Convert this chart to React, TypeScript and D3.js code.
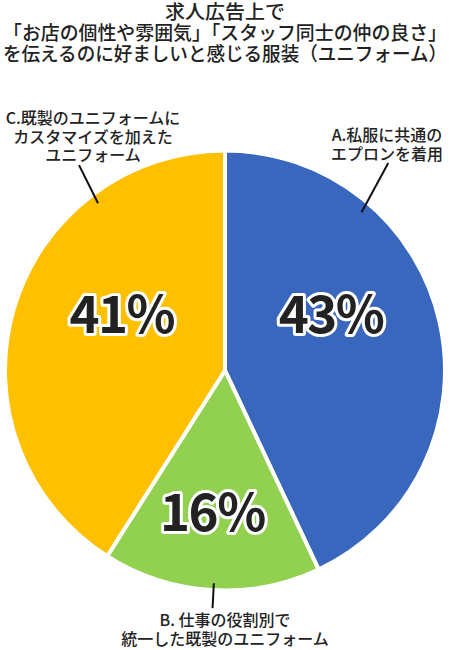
import React, { useEffect, useRef } from 'react';
import * as d3 from 'd3';

const titleLines = [
  '求人広告上で',
  '「お店の個性や雰囲気」「スタッフ同士の仲の良さ」',
  'を伝えるのに好ましいと感じる服装（ユニフォーム）',
];
const titleWidths = [120, 444, 444];

const categories = ['A', 'B', 'C'];
const shares = [43, 16, 41];
const colors = ['#3967be', '#92d050', '#ffc000'];

const categoryLabels = [
  ['A.私服に共通の', 'エプロンを着用'],
  ['B. 仕事の役割別で', '統一した既製のユニフォーム'],
  ['C.既製のユニフォームに', 'カスタマイズを加えた', 'ユニフォーム'],
];

// label placement tweaks (not data)
const pctOffsets = [[-12, -11], [-5, 40], [13, -4]];
const leaders = [
  { a0: 40.8, r0: 209, a1: 38.2, r1: 264 },
  { a0: 183, r0: 213, a1: 183, r1: 238 },
  { a0: 322.8, r0: 210, a1: 324.6, r1: 252 },
];
const labelPos = [
  { x: 387, y: 141 },
  { x: 225, y: 626 },
  { x: 93, y: 124 },
];

const FONT = '"Noto Sans CJK JP", "Noto Sans", sans-serif';

const App: React.FC = () => {
  const svgRef = useRef<SVGSVGElement>(null);

  useEffect(() => {
    if (!svgRef.current) return;
    const svg = d3.select(svgRef.current);
    svg.selectAll('*').remove();

    const width = 450;
    const cx = 225;
    const cy = 370.5;
    const radius = 220;

    const title = svg.append('g').attr('font-family', FONT).attr('font-weight', 500).attr('fill', '#222');
    title
      .selectAll('text')
      .data(titleLines)
      .enter()
      .append('text')
      .attr('x', width / 2)
      .attr('y', (_, i) => 18.5 + i * 21)
      .attr('text-anchor', 'middle')
      .attr('font-size', 19)
      .attr('textLength', (_, i) => titleWidths[i])
      .attr('lengthAdjust', 'spacingAndGlyphs')
      .text((d) => d);

    const data = categories.map((c, i) => ({ key: c, value: shares[i] }));
    const pie = d3.pie<{ key: string; value: number }>().sort(null).value((d) => d.value);
    const arcs = pie(data);
    const arc = d3.arc<d3.PieArcDatum<{ key: string; value: number }>>().innerRadius(0).outerRadius(radius);
    const labelArc = d3
      .arc<d3.PieArcDatum<{ key: string; value: number }>>()
      .innerRadius(radius * 0.55)
      .outerRadius(radius * 0.55);

    const g = svg.append('g').attr('transform', `translate(${cx},${cy})`);

    g.selectAll('path')
      .data(arcs)
      .enter()
      .append('path')
      .attr('d', arc)
      .attr('fill', (_, i) => colors[i])
      .attr('stroke', '#fff')
      .attr('stroke-width', 4)
      .attr('stroke-linejoin', 'miter');

    g.selectAll('text.pct')
      .data(arcs)
      .enter()
      .append('text')
      .attr('class', 'pct')
      .attr('x', (d, i) => labelArc.centroid(d)[0] + pctOffsets[i][0])
      .attr('y', (d, i) => labelArc.centroid(d)[1] + pctOffsets[i][1])
      .attr('text-anchor', 'middle')
      .attr('font-family', FONT)
      .attr('font-weight', 700)
      .attr('font-size', 51)
      .attr('letter-spacing', -1.5)
      .attr('fill', '#222')
      .attr('stroke', '#fff')
      .attr('stroke-width', 6)
      .attr('stroke-linejoin', 'round')
      .attr('paint-order', 'stroke')
      .text((d) => `${d.data.value}%`);

    const polar = (deg: number, r: number) => {
      const a = (deg * Math.PI) / 180;
      return [Math.sin(a) * r, -Math.cos(a) * r];
    };

    g.selectAll('line.leader')
      .data(leaders)
      .enter()
      .append('line')
      .attr('class', 'leader')
      .attr('x1', (d) => polar(d.a0, d.r0)[0])
      .attr('y1', (d) => polar(d.a0, d.r0)[1])
      .attr('x2', (d) => polar(d.a1, d.r1)[0])
      .attr('y2', (d) => polar(d.a1, d.r1)[1])
      .attr('stroke', '#111')
      .attr('stroke-width', 2);

    const labels = svg
      .append('g')
      .attr('font-family', FONT)
      .attr('font-weight', 500)
      .attr('font-size', 16)
      .attr('fill', '#222');

    categoryLabels.forEach((lines, i) => {
      labels
        .append('text')
        .attr('text-anchor', 'middle')
        .selectAll('tspan')
        .data(lines)
        .enter()
        .append('tspan')
        .attr('x', labelPos[i].x)
        .attr('y', (_, j) => labelPos[i].y + j * 18.5)
        .text((d) => d);
    });
  }, []);

  return (
    <div style={{ position: 'absolute', left: 0, top: 0, width: 450, height: 650, background: '#fff' }}>
      <svg ref={svgRef} width="450" height="650" style={{ display: 'block' }}></svg>
    </div>
  );
};

export default App;
